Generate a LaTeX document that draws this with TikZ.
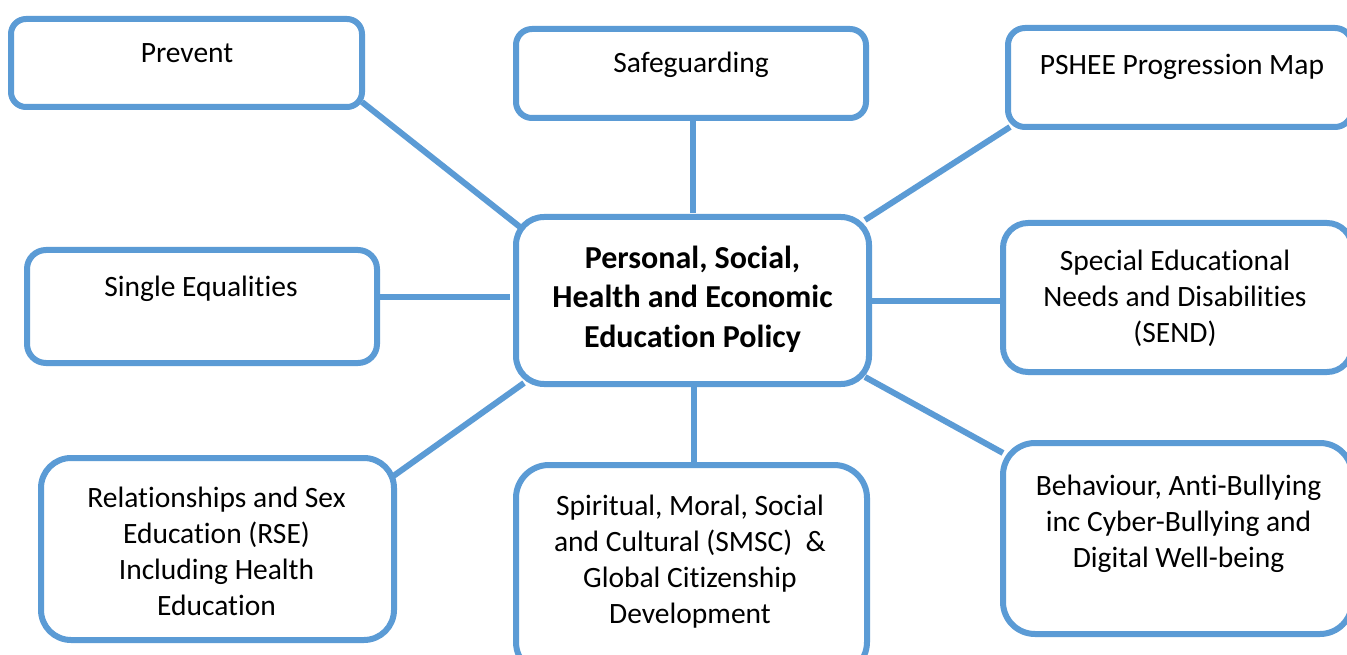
\documentclass[tikz,border=0pt]{standalone}
\usepackage{fontspec}
\setmainfont{Carlito}[Ligatures=NoCommon]
\usetikzlibrary{calc}
\definecolor{linkblue}{RGB}{91,155,213}
\tikzset{
  box/.style={draw=linkblue, line width=6pt, fill=white, inner sep=0pt, outer sep=0pt},
  link/.style={draw=linkblue, line width=6pt},
  txt/.style={align=center, inner sep=0pt, anchor=base, font=\fontsize{29.5}{36}\selectfont},
  title/.style={align=center, inner sep=0pt, anchor=base, font=\fontsize{32}{39.5}\selectfont\bfseries},
}
\begin{document}
\begin{tikzpicture}[x=1pt, y=-1pt]
  \fill[white] (0,0) rectangle (1347,655);
  \useasboundingbox (0,0) rectangle (1347,655);

  % boxes
  \node[box, rounded corners=15pt, minimum width=351pt, minimum height=88pt]  (prev)   at (186.5,63)  {};
  \node[box, rounded corners=16pt, minimum width=350pt, minimum height=89pt]  (safe)   at (691,73.5)  {};
  \node[box, rounded corners=17pt, minimum width=344pt, minimum height=99pt]  (pshee)  at (1180,77.5) {};
  \node[box, rounded corners=28pt, minimum width=353pt, minimum height=167pt] (policy) at (692.5,300.5) {};
  \node[box, rounded corners=19pt, minimum width=350pt, minimum height=113pt] (single) at (202,306.5) {};
  \node[box, rounded corners=25pt, minimum width=349pt, minimum height=149pt] (send)   at (1177.5,297.5) {};
  \node[box, rounded corners=30pt, minimum width=353pt, minimum height=182pt] (rse)    at (217.5,549) {};
  \node[box, rounded corners=33pt, minimum width=351pt, minimum height=210pt] (smsc)   at (691.5,570) {};
  \node[box, rounded corners=32pt, minimum width=349pt, minimum height=191pt] (behav)  at (1177.5,538.5) {};

  % connectors
  \draw[link] ([shift={(0,-5)}]prev.south east) -- ([shift={(4,10)}]policy.north west);
  \draw[link] ([xshift=2pt]safe.south) -- ($(policy.north)+(0.5,-4)$);
  \draw[link] ([shift={(2,0)}]pshee.south west) -- ([shift={(-4,3)}]policy.north east);
  \draw[link] ([shift={(1,-9.5)}]single.east) -- ([shift={(-6,-3.5)}]policy.west);
  \draw[link] ([xshift=3pt]policy.east) -- ($(policy.east -| send.west)+(-3,0)$);
  \draw[link] ([shift={(-2,19)}]rse.north east) -- ([shift={(8,-1)}]policy.south west);
  \draw[link] ([xshift=1.5pt]policy.south) -- ($(policy.south |- smsc.north)+(1.5,0)$);
  \draw[link] ([shift={(-4,-7)}]policy.south east) -- ([shift={(0,10)}]behav.north west);

  % texts (anchored at the baseline of the last line)
  \node[txt]   (tprev)   at (187,63)    {Prevent};
  \node[txt]   (tsafe)   at (691,73)    {Safeguarding};
  \node[txt]   (tpshee)  at (1182,75)   {PSHEE Progression Map};
  \node[title] (tpolicy) at (692.5,347) {Personal, Social,\\Health and Economic\\Education Policy};
  \node[txt]   (tsingle) at (201,296)   {Single Equalities};
  \node[txt]   (tsend)   at (1175,342)  {Special Educational\\Needs and Disabilities\\(SEND)};
  \node[txt]   (trse)    at (216.5,615) {Relationships and Sex\\Education (RSE)\\Including Health\\Education};
  \node[txt]   (tsmsc)   at (690,623)   {Spiritual, Moral, Social\\and Cultural (SMSC)~~\&\\Global Citizenship\\Development};
  \node[txt]   (tbehav)  at (1178.5,567){Behaviour, Anti-Bullying\\inc Cyber-Bullying and\\Digital Well-being};
\end{tikzpicture}
\end{document}
